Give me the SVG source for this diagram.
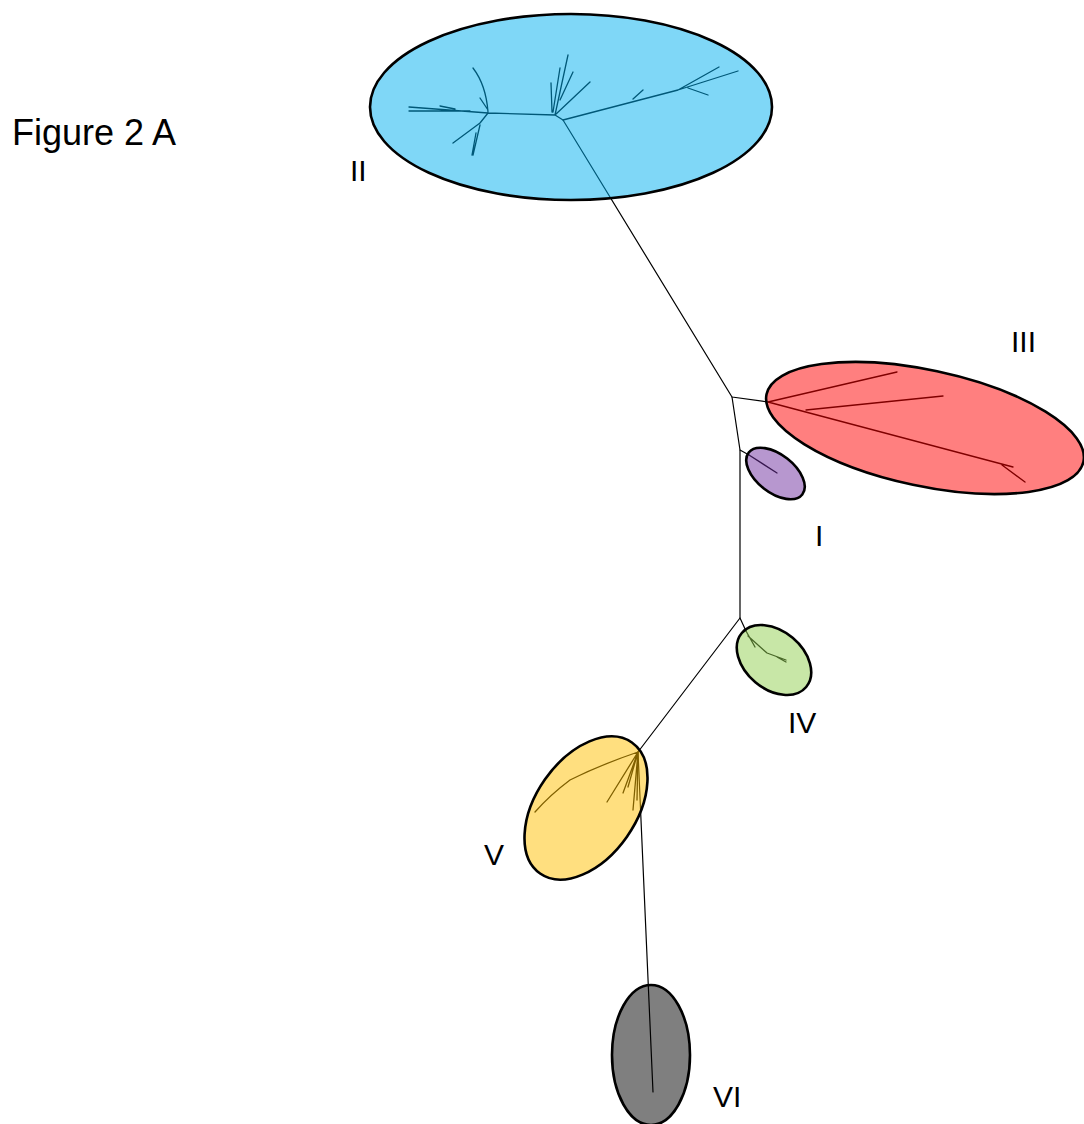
<svg xmlns="http://www.w3.org/2000/svg" width="1084" height="1124" viewBox="0 0 1084 1124">
<style>
.bg{fill:#ffffff}
.br{fill:none;stroke:#000;stroke-width:1.2;stroke-linecap:round;stroke-linejoin:round}
.tr{fill:none;stroke:#000;stroke-width:1.3;stroke-linecap:round;stroke-linejoin:round}
.cl{stroke:#000;stroke-width:2.6;fill-opacity:0.5}
.lb{font-family:"Liberation Sans",Arial,sans-serif;font-size:30px;fill:#000}
.ti{font-family:"Liberation Sans",Arial,sans-serif;font-size:36px;fill:#000}
</style>
<rect class="bg" x="0" y="0" width="1084" height="1124"/>
<text class="ti" x="12" y="145">Figure 2 A</text>
<g id="connectors">
<path class="br" d="M563,120 L732,397 L768,402"/>
<path class="br" d="M732,397 L740,450 L749,455"/>
<path class="br" d="M740,450 L740,618 L746,631"/>
<path class="br" d="M740,618 L638,752"/>
<path class="br" d="M638,752 L653,1092"/>
</g>
<g id="node-II">
<path class="tr" d="M563,120 L555,115 L488,113 L409,107 M470,111 L409,111 M455,109 L440,106 M488,112 Q486,85 473,68 M480,98 L488,110 M488,113 L480,123 L453,143 M480,125 L473,155 M476,133 L472,155 M555,115 L568,55 M553,112 L560,68 M552,112 L551,83 M555,115 L590,82 M560,100 L573,72 M563,120 L678,90 L719,67 M678,90 L738,71 M688,88 L708,95 M633,99 L643,90"/>
<ellipse class="cl" cx="571" cy="107" rx="201" ry="93" fill="#00b0f0"/>
<text class="lb" x="350" y="181">II</text>
</g>
<g id="node-III">
<path class="tr" d="M768,402 L897,372 M768,402 L1013,467 M806,410 L943,396 M1002,465 L1025,482"/>
<ellipse class="cl" cx="925" cy="428" rx="162" ry="58" transform="rotate(12 925 428)" fill="#ff0000"/>
<text class="lb" x="1011" y="352">III</text>
</g>
<g id="node-I">
<path class="tr" d="M749,455 L777,473"/>
<ellipse class="cl" cx="775.5" cy="473.5" rx="34" ry="19" transform="rotate(38 775.5 473.5)" fill="#7030a0"/>
<text class="lb" x="815" y="546">I</text>
</g>
<g id="node-IV">
<path class="tr" d="M746,631 L755,647 M748,636 L767,653 L786,660 M777,657 L786,662"/>
<ellipse class="cl" cx="774" cy="660" rx="42" ry="29" transform="rotate(40 774 660)" fill="#92d050"/>
<text class="lb" x="788" y="733">IV</text>
</g>
<g id="node-V">
<path class="tr" d="M638,752 Q600,765 570,780 Q550,795 535,812 M638,752 L607,802 M638,752 L623,793 M638,752 L628,787 M638,752 L633,810 M638,752 L637,800"/>
<ellipse class="cl" cx="586" cy="808" rx="80" ry="50" transform="rotate(-55 586 808)" fill="#ffc000"/>
<text class="lb" x="484" y="865">V</text>
</g>
<g id="node-VI">
<ellipse class="cl" cx="651" cy="1055" rx="39" ry="70" fill="#000000"/>
<text class="lb" x="713" y="1107">VI</text>
</g>
</svg>
